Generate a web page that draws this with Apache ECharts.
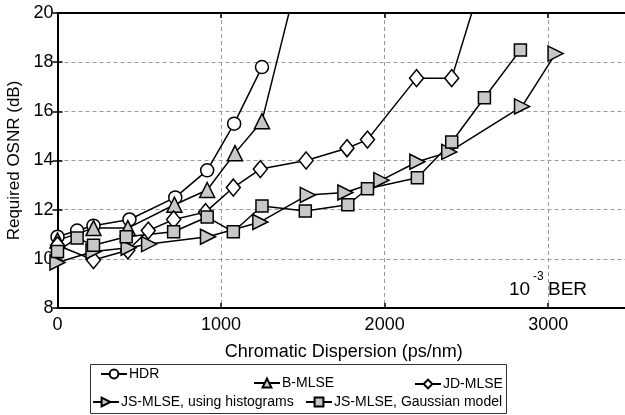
<!DOCTYPE html>
<html>
<head>
<meta charset="utf-8">
<script src="https://cdn.jsdelivr.net/npm/echarts@6/dist/echarts.min.js"></script>
<style>
  html, body { margin: 0; padding: 0; background: #fff; }
  #chart { width: 625px; height: 415px; }
</style>
</head>
<body>
<div id="chart"></div>
<script>
// values (x: ps/nm, y: dB); 22 = line leaves the top of the plot
const hdrX = [0, 120, 220, 440, 720, 915, 1080, 1250];
const hdrY = [10.9, 11.15, 11.35, 11.6, 12.5, 13.6, 15.5, 17.8];
const bmlseX = [0, 220, 430, 715, 915, 1085, 1250, 1490];
const bmlseY = [10.75, 11.25, 11.25, 12.2, 12.8, 14.3, 15.6, 22];
const jdX = [0, 220, 430, 555, 710, 905, 1075, 1240, 1520, 1770, 1895, 2195, 2410, 2625];
const jdY = [10.55, 9.95, 10.35, 11.15, 11.6, 11.9, 12.9, 13.65, 14.0, 14.5, 14.85, 17.35, 17.35, 22];
const histX = [0, 220, 435, 560, 920, 1240, 1530, 1760, 1980, 2200, 2395, 2840, 3045];
const histY = [9.85, 10.3, 10.45, 10.6, 10.9, 11.5, 12.6, 12.7, 13.2, 13.95, 14.35, 16.2, 18.35];
const gaussX = [0, 120, 220, 420, 710, 915, 1075, 1250, 1515, 1775, 1895, 2200, 2410, 2610, 2830];
const gaussY = [10.3, 10.85, 10.55, 10.9, 11.1, 11.7, 11.1, 12.15, 11.95, 12.2, 12.85, 13.3, 14.75, 16.55, 18.5];

const names = ['HDR', 'B-MLSE', 'JD-MLSE', 'JS-MLSE, using histograms', 'JS-MLSE, Gaussian model'];

const pair = (xs, ys) => xs.map((x, i) => [x, ys[i]]);
const FONT = 'Liberation Sans, Arial, sans-serif';

function mkSeries(name, xs, ys, symbol, size, fill) {
    return {
        name: name,
        type: 'line',
        data: pair(xs, ys),
        symbol: symbol,
        symbolSize: size,
        showAllSymbol: true,
        clip: true,
        lineStyle: { color: '#000', width: 1.5 },
        itemStyle: { color: fill, borderColor: '#000', borderWidth: 1.5 },
        emphasis: { disabled: true },
        z: 3
    };
}

const rightTri = 'path://M0,0L10,5L0,10Z';

// one legend per item, placed like the MATLAB box
function mkLegend(name, left, top) {
    return {
        data: [name],
        left: left,
        top: top,
        itemWidth: 26,
        itemHeight: 11,
        itemGap: 0,
        padding: 0,
        selectedMode: false,
        textStyle: { fontFamily: FONT, fontSize: 14, color: '#000', padding: [0, 0, 0, -3] }
    };
}

const chart = echarts.init(document.getElementById('chart'));
chart.setOption({
    animation: false,
    backgroundColor: '#fff',
    grid: { left: 57.5, right: -5, top: 13, bottom: 107, outerBoundsMode: 'none', containLabel: false },
    legend: [
        mkLegend(names[0], 100, 367),
        mkLegend(names[1], 253, 376),
        mkLegend(names[2], 414, 377),
        mkLegend(names[3], 92, 395),
        mkLegend(names[4], 305, 395)
    ],
    xAxis: [{
        type: 'value',
        min: 0, max: 3500, interval: 1000,
        name: 'Chromatic Dispersion (ps/nm)',
        nameLocation: 'middle',
        nameGap: 35,
        nameTextStyle: { fontFamily: FONT, fontSize: 18, color: '#000' },
        axisLine: { onZero: false, lineStyle: { color: '#000', width: 2 } },
        axisTick: { inside: true, length: 5, lineStyle: { color: '#000', width: 1.5 } },
        axisLabel: {
            fontFamily: FONT, fontSize: 18, color: '#000', margin: 8,
            formatter: v => (v % 1000 === 0 ? String(v) : '')
        },
        splitLine: { show: true, lineStyle: { color: '#9a9a9a', type: [4, 3], width: 1 } }
    }, {
        type: 'value', position: 'top',
        min: 0, max: 3500, interval: 1000,
        axisLine: { show: true, lineStyle: { color: '#000', width: 2 } },
        axisTick: { inside: true, length: 5, lineStyle: { color: '#000', width: 1.5 } },
        axisLabel: { show: false },
        splitLine: { show: false }
    }],
    yAxis: [{
        type: 'value',
        min: 8, max: 20, interval: 2,
        name: 'Required OSNR (dB)',
        nameLocation: 'middle',
        nameGap: 27,
        nameTextStyle: { fontFamily: FONT, fontSize: 17, color: '#000' },
        axisLine: { show: true, onZero: false, lineStyle: { color: '#000', width: 2 } },
        axisTick: { show: true, inside: true, length: 5, lineStyle: { color: '#000', width: 1.5 } },
        axisLabel: { fontFamily: FONT, fontSize: 18, color: '#000', margin: 4 },
        splitLine: { show: true, lineStyle: { color: '#9a9a9a', type: [4, 3], width: 1 } }
    }, {
        type: 'value', position: 'right',
        min: 8, max: 20, interval: 2,
        axisLine: { show: true, lineStyle: { color: '#000', width: 2 } },
        axisTick: { show: true, inside: true, length: 5, lineStyle: { color: '#000', width: 1.5 } },
        axisLabel: { show: false },
        splitLine: { show: false }
    }],
    series: [
        mkSeries(names[0], hdrX, hdrY, 'circle', 13, '#fff'),
        mkSeries(names[1], bmlseX, bmlseY, 'triangle', 15, '#c8c8c8'),
        mkSeries(names[2], jdX, jdY, 'diamond', [14, 17], '#fff'),
        mkSeries(names[3], histX, histY, rightTri, 15, '#c8c8c8'),
        mkSeries(names[4], gaussX, gaussY, 'rect', 12, '#c8c8c8')
    ],
    graphic: [
        { type: 'rect', shape: { x: 90.5, y: 364.5, width: 416, height: 49 },
          style: { fill: 'none', stroke: '#333', lineWidth: 1 }, z: 0 },
        { type: 'text', left: 509, top: 280,
          style: { text: '10', font: '19px ' + FONT, fill: '#000' } },
        { type: 'text', left: 533, top: 271,
          style: { text: '-3', font: '12px ' + FONT, fill: '#000' } },
        { type: 'text', left: 548, top: 280,
          style: { text: 'BER', font: '19px ' + FONT, fill: '#000' } }
    ]
});
</script>
</body>
</html>
